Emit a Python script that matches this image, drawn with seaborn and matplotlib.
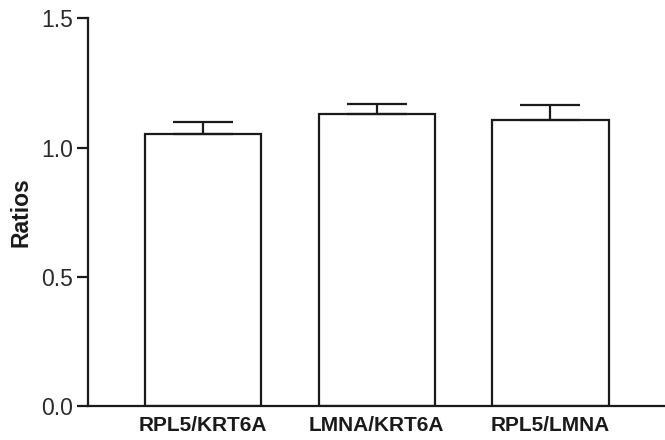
import matplotlib
matplotlib.use("Agg")
import matplotlib.pyplot as plt
import seaborn as sns
import pandas as pd

# Expression ratios with upper standard error
categories = ["RPL5/KRT6A", "LMNA/KRT6A", "RPL5/LMNA"]
ratios = [1.052, 1.128, 1.108]
errors = [0.048, 0.042, 0.056]
yticks = [0.0, 0.5, 1.0, 1.5]
ytick_labels = ["0.0", "0.5", "1.0", "1.5"]

sns.set_theme(style="ticks")
plt.rcParams["font.family"] = ["Liberation Sans", "DejaVu Sans"]

df = pd.DataFrame({"pair": categories, "ratio": ratios, "err": errors})

fig = plt.figure(figsize=(6.65, 4.40), dpi=100)
ax = fig.add_axes([88 / 665, 1 - 406 / 440, 1 - 88 / 665, (406 - 18.3) / 440])

ink = "#1a1a1a"
lw = 1.6

sns.barplot(data=df, x="pair", y="ratio", color="white", edgecolor=ink,
            linewidth=lw, width=0.67, errorbar=None, saturation=1, ax=ax)

# upper-only error bars
ax.errorbar(range(len(df)), df["ratio"], yerr=[[0] * len(df), df["err"]],
            fmt="none", ecolor=ink, elinewidth=lw, capsize=21.5,
            capthick=lw, zorder=3)

ax.set_ylim(0, 1.5)
ax.set_xlim(-0.664, 2.66)
ax.set_yticks(yticks)
ax.set_yticklabels(ytick_labels)
ax.set_xlabel("")
ax.set_ylabel("Ratios", fontsize=16.5, fontweight="bold", color=ink, labelpad=6)

ax.tick_params(axis="y", direction="out", length=8, width=lw, color=ink,
               labelsize=16.5, labelcolor="#2a2a2a", pad=3)
ax.tick_params(axis="x", length=0, labelsize=15, labelcolor=ink, pad=7)
for lab in ax.get_xticklabels():
    lab.set_fontweight("bold")

sns.despine(ax=ax)
for side in ("left", "bottom"):
    ax.spines[side].set_linewidth(lw)
    ax.spines[side].set_color(ink)
ax.patch.set_alpha(0)
fig.patch.set_facecolor("white")

fig.savefig("out.png", dpi=100)
